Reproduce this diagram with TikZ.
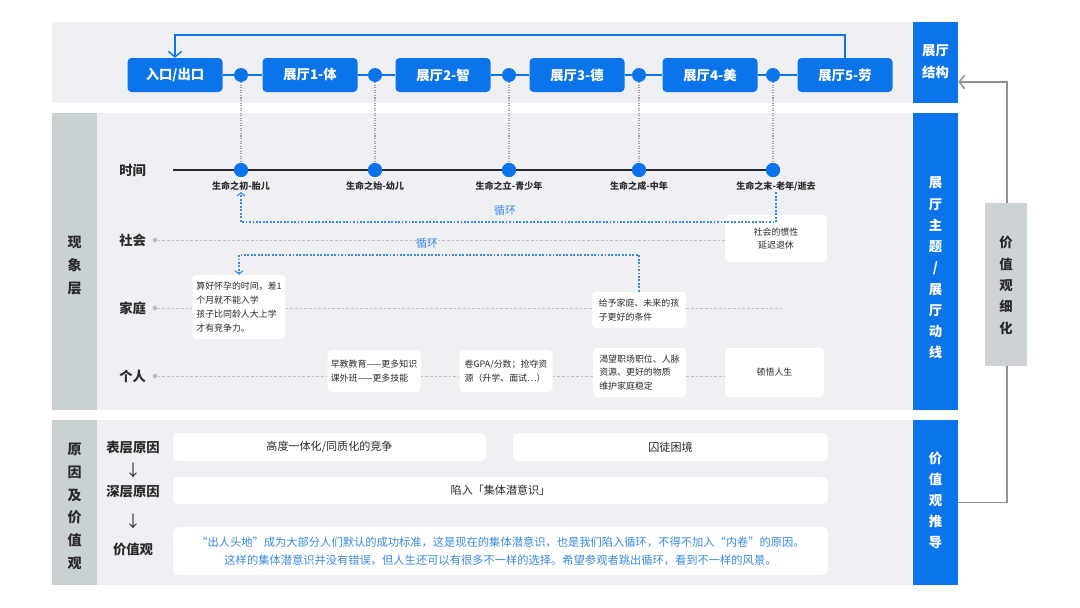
\documentclass[tikz,border=0pt]{standalone}
\usepackage{fontspec}
\setmainfont{Noto Sans CJK SC}
\usetikzlibrary{arrows.meta}
\definecolor{cblue}{HTML}{0B74EA}
\definecolor{panel}{HTML}{EEF0F3}
\definecolor{colgray}{HTML}{CAD1D3}
\definecolor{sidegray}{HTML}{CDD2D4}
\definecolor{dashgray}{HTML}{BCC0C4}
\definecolor{dotgray}{HTML}{9A9EA3}
\definecolor{loopblue}{HTML}{3A8AE0}
\definecolor{linkgray}{HTML}{8E9296}
\definecolor{txt}{HTML}{2A2A2A}
\newcommand{\myfs}[2]{\fontsize{#1}{#2}\selectfont}
\begin{document}
\begin{tikzpicture}[x=0.75pt,y=-0.75pt,
  hall/.style={fill=cblue,text=white,rounded corners=3pt,minimum width=71.25pt,minimum height=25.5pt,inner sep=0pt,font=\myfs{10pt}{12pt}\bfseries},
  hdot/.style={circle,fill=cblue,minimum size=10.5pt,inner sep=0pt},
  hline/.style={cblue,line width=1.1pt},
  vdotted/.style={dotgray,line width=0.9pt,dash pattern=on 0.8pt off 1.1pt},
  tline/.style={txt,line width=1pt},
  tlab/.style={font=\myfs{6.8pt}{8pt}\bfseries,text=txt,inner sep=1pt},
  rowlab/.style={font=\myfs{10pt}{12pt}\bfseries,text=txt,anchor=west,inner sep=0pt},
  rowdot/.style={circle,fill=dashgray,minimum size=3.5pt,inner sep=0pt},
  rowline/.style={dashgray,line width=0.6pt,dash pattern=on 2pt off 1.5pt},
  card/.style={fill=white,rounded corners=3pt,inner sep=0pt,align=left,font=\myfs{6.7pt}{10.3pt},text=txt},
  bcard/.style={fill=white,rounded corners=4pt,inner sep=0pt,font=\myfs{8.3pt}{13.5pt},text=txt},
  loopln/.style={loopblue,line width=0.8pt,dash pattern=on 1.4pt off 1.2pt},
  looptip/.style={-{Straight Barb[length=2.5pt,width=6pt]}},
  looplab/.style={font=\myfs{8.2pt}{10pt},text=loopblue},
  sidebox/.style={fill=cblue,inner sep=0pt,minimum width=33.75pt},
  sidetxt/.style={font=\bfseries,text=white,align=center,inner sep=0pt},
  coltxt/.style={font=\bfseries,text=txt,align=center,inner sep=0pt},
  glink/.style={linkgray,line width=1.1pt}
]
\useasboundingbox (0,0) rectangle (1080,607);
\fill[white] (0,0) rectangle (1080,607);

% panels
\fill[panel] (52,22) rectangle (912,103);
\fill[colgray] (52,113) rectangle (97,410);
\fill[panel] (97,113) rectangle (912,410);
\fill[colgray] (52,420) rectangle (97,585);
\fill[panel] (97,420) rectangle (912,585);

% right side boxes
\node[sidebox,minimum height=60.75pt] (st) at (935.5,62.5) {};
\node[sidebox,minimum height=222.75pt] (sm) at (935.5,261.5) {};
\node[sidebox,minimum height=123.75pt] (vd) at (935.5,502.5) {};
\node[sidetxt,font=\myfs{10pt}{16.5pt}\bfseries] (sttxt) at (935.5,62) {展厅\\结构};
\node[sidetxt,font=\myfs{10pt}{15.95pt}\bfseries] (smtxt) at (935.5,268) {展\\厅\\主\\题\\/\\展\\厅\\动\\线};
\node[sidetxt,font=\myfs{10pt}{15.75pt}\bfseries] (vdtxt) at (935.5,500) {价\\值\\观\\推\\导};

% gray feedback link
\coordinate (gtop) at (1007,82);
\draw[glink,-{Straight Barb[length=4pt,width=10pt]}] (vd.east) -| (gtop) -- (st.east |- gtop);
\node[fill=sidegray,minimum width=31.5pt,minimum height=122.25pt,inner sep=0pt] (vx) at (1006,284.5) {};
\node[coltxt,font=\myfs{10pt}{16pt}\bfseries] (vxtxt) at (1006,285.5) {价\\值\\观\\细\\化};

% left column labels
\node[coltxt,font=\myfs{10.5pt}{17.25pt}\bfseries] (xl) at (74.5,266) {现\\象\\层};
\node[coltxt,font=\myfs{10.5pt}{17pt}\bfseries] (yl) at (74.5,506.5) {原\\因\\及\\价\\值\\观};

% halls
\node[hall] (h0) at (175,75) {入口/出口};
\node[hall] (h1) at (310,75) {展厅1-体};
\node[hall] (h2) at (443,75) {展厅2-智};
\node[hall] (h3) at (577,75) {展厅3-德};
\node[hall] (h4) at (710,75) {展厅4-美};
\node[hall] (h5) at (845,75) {展厅5-劳};
\node[hdot] (d1) at (241,75) {};
\node[hdot] (d2) at (375,75) {};
\node[hdot] (d3) at (509,75) {};
\node[hdot] (d4) at (639,75) {};
\node[hdot] (d5) at (773,75) {};
\draw[hline] (h0) -- (d1) -- (h1);
\draw[hline] (h1) -- (d2) -- (h2);
\draw[hline] (h2) -- (d3) -- (h3);
\draw[hline] (h3) -- (d4) -- (h4);
\draw[hline] (h4) -- (d5) -- (h5);
\draw[hline,-{Straight Barb[length=4pt,width=10pt]}] (h5.north) -- (h5.north |- 0,35) -| (h0.north);

% timeline
\coordinate (tst) at (173,170);
\node[hdot] (t1) at (241,170) {};
\node[hdot] (t2) at (375,170) {};
\node[hdot] (t3) at (509,170) {};
\node[hdot] (t4) at (639,170) {};
\node[hdot] (t5) at (773,170) {};
\draw[vdotted] (d1) -- (t1);
\draw[vdotted] (d2) -- (t2);
\draw[vdotted] (d3) -- (t3);
\draw[vdotted] (d4) -- (t4);
\draw[vdotted] (d5) -- (t5);
\draw[tline] (tst) -- (t1) -- (t2) -- (t3) -- (t4) -- (t5);
\node[hdot] at (t1) {};
\node[hdot] at (t2) {};
\node[hdot] at (t3) {};
\node[hdot] at (t4) {};
\node[hdot] at (t5) {};
\node[tlab] (l1) at (241,186) {生命之初-胎儿};
\node[tlab] (l2) at (375,186) {生命之始-幼儿};
\node[tlab] (l3) at (509,186) {生命之立-青少年};
\node[tlab] (l4) at (639,186) {生命之成-中年};
\node[tlab] (l5) at (776,186) {生命之末-老年/逝去};

% row labels
\node[rowlab] (rt) at (119,170) {时间};
\node[rowlab] (rsl) at (119,240) {社会};
\node[rowlab] (rfl) at (119,308) {家庭};
\node[rowlab] (rpl) at (119,376) {个人};
\node[rowdot] (rs) at (155,240) {};
\node[rowdot] (rf) at (155,308) {};
\node[rowdot] (rp) at (155,376) {};

% cards
\node[card,align=center,minimum width=76.5pt,minimum height=35.25pt] (s1) at (776,238.5) {社会的惯性\\延迟退休};
\node[card,minimum width=69.75pt,minimum height=48pt] (f1) at (239,307) {算好怀孕的时间，差1\\个月就不能入学\\孩子比同龄人大上学\\才有竞争力。};
\node[card,minimum width=70.5pt,minimum height=27pt] (f2) at (639,310) {给予家庭、未来的孩\\子更好的条件};
\node[card,minimum width=69.75pt,minimum height=31.5pt] (p1) at (374,371) {早教教育——更多知识\\课外班——更多技能};
\node[card,minimum width=69.75pt,minimum height=31.5pt] (p2) at (506,371) {卷GPA/分数；抢夺资\\源（升学、面试…）};
\node[card,minimum width=69.75pt,minimum height=36.75pt] (p3) at (639.5,372.5) {渴望职场职位、人脉\\资源、更好的物质\\维护家庭稳定};
\node[card,align=center,minimum width=74.25pt,minimum height=36.75pt] (p4) at (774.5,372.5) {顿悟人生};

% row dashed lines
\coordinate (fend) at (782,308);
\draw[rowline] (rs) -- (rs -| s1.west);
\draw[rowline] (rf) -- (rf -| f1.west);
\draw[rowline] (rf -| f1.east) -- (rf -| f2.west);
\draw[rowline] (rf -| f2.east) -- (fend);
\draw[rowline] (rp) -- (rp -| p1.west);
\draw[rowline] (rp -| p1.east) -- (rp -| p2.west);
\draw[rowline] (rp -| p2.east) -- (rp -| p3.west);
\draw[rowline] (rp -| p3.east) -- (rp -| p4.west);

% loops
\draw[loopln,looptip] (l5.south) -- (l5.south |- 0,222) -| (l1.south);
\node[looplab] (c1) at (505,210) {循环};
\draw[loopln,looptip] (f2.north) -- (f2.north |- 0,255) -| (f1.north);
\node[looplab] (c2) at (427,243) {循环};

% bottom section
\node[rowlab,anchor=center] (bl1) at (133,448) {表层原因};
\node[rowlab,anchor=center,font=\myfs{12pt}{12pt}] (ar1) at (133,470) {↓};
\node[rowlab,anchor=center] (bl2) at (133,492) {深层原因};
\node[rowlab,anchor=center,font=\myfs{12pt}{12pt}] (ar2) at (133,521) {↓};
\node[rowlab,anchor=center] (bl3) at (133,549) {价值观};

\node[bcard,minimum width=234.75pt,minimum height=21pt] (b1) at (329.5,447) {高度一体化/同质化的竞争};
\node[bcard,minimum width=236.25pt,minimum height=21pt] (b2) at (670.5,447) {囚徒困境};
\node[bcard,minimum width=491.25pt,minimum height=20.25pt] (b3) at (500.5,490.5) {陷入「集体潜意识」};
\node[bcard,align=center,text=loopblue,font=\myfs{8.45pt}{13.5pt},minimum width=491.25pt,minimum height=36pt] (b4) at (500.5,551) {“出人头地”成为大部分人们默认的成功标准，这是现在的集体潜意识，也是我们陷入循环，不得不加入“内卷”的原因。\\这样的集体潜意识并没有错误，但人生还可以有很多不一样的选择。希望参观者跳出循环，看到不一样的风景。};
\end{tikzpicture}
\end{document}
